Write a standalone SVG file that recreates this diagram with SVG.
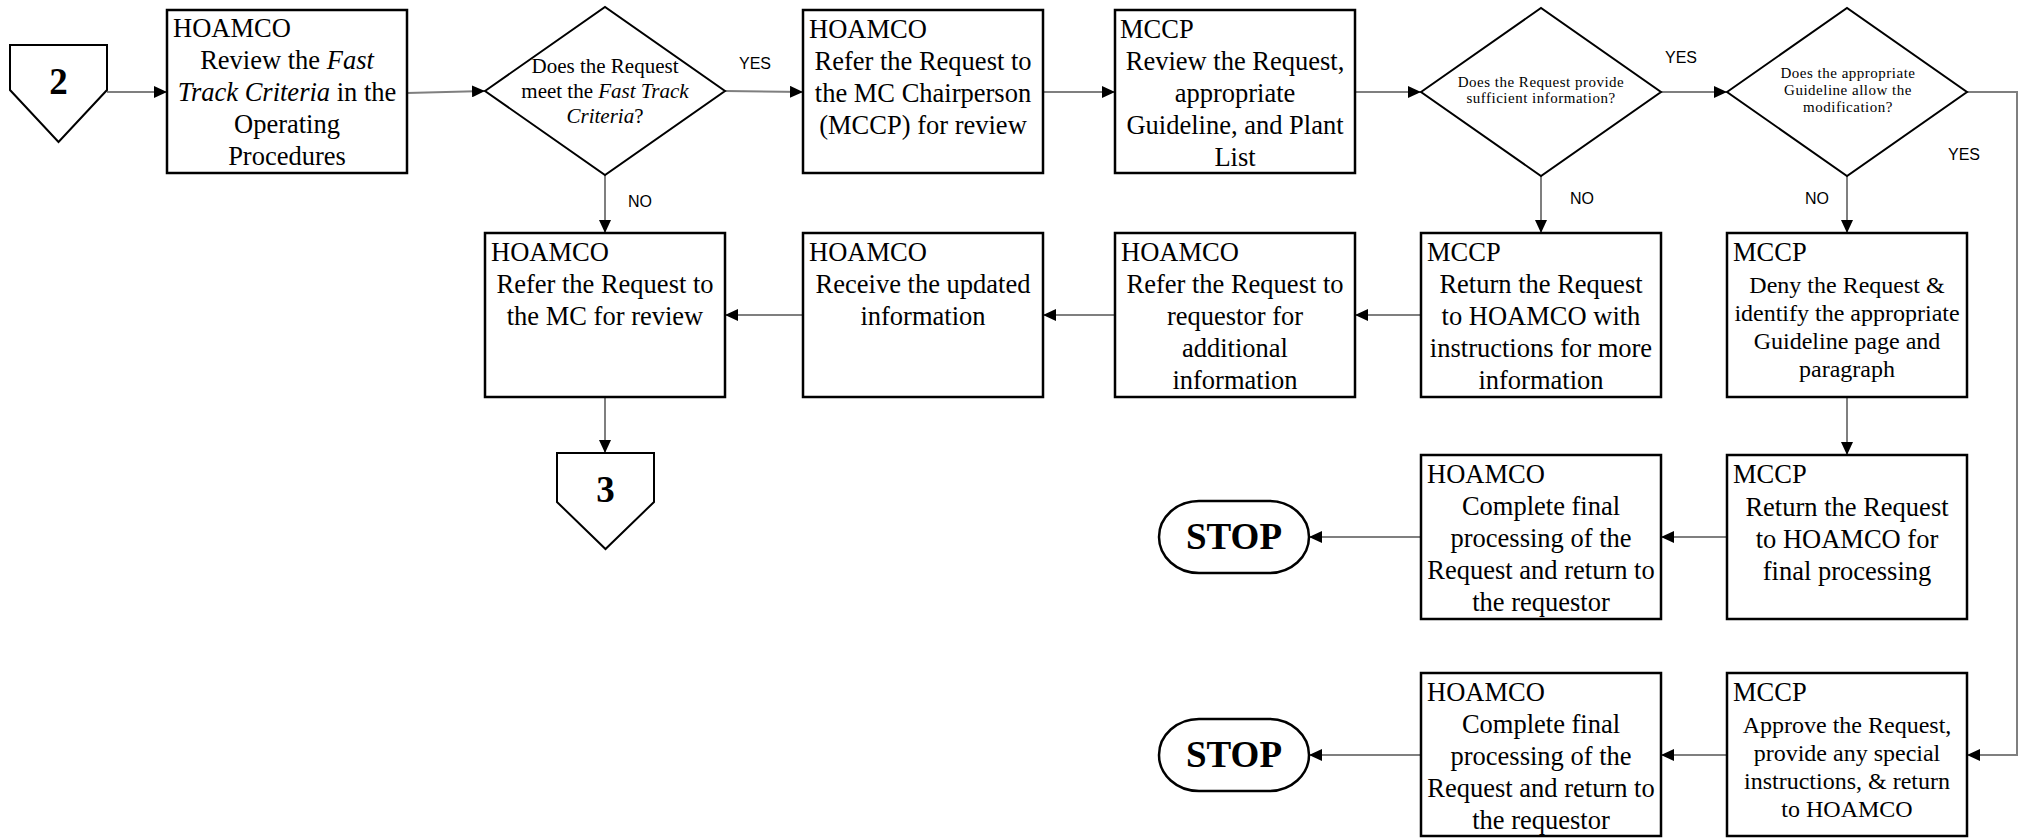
<svg xmlns="http://www.w3.org/2000/svg" width="2028" height="838" viewBox="0 0 2028 838">
<style>
.box{fill:#fff;stroke:#000;stroke-width:2.5}
.dia{fill:#fff;stroke:#000;stroke-width:2}
.con{fill:none;stroke:#7f7f7f;stroke-width:2}
.t{font-family:"Liberation Serif","Times New Roman",serif;font-size:26.5px;fill:#000}
.ts{font-family:"Liberation Serif","Times New Roman",serif;font-size:24px;fill:#000}
.c{text-anchor:middle}
.d1{font-family:"Liberation Serif","Times New Roman",serif;font-size:21px;fill:#000;text-anchor:middle}
.d2{font-family:"Liberation Serif","Times New Roman",serif;font-size:15px;letter-spacing:0.5px;fill:#000;text-anchor:middle}
.lab{font-family:"Liberation Sans",Arial,sans-serif;font-size:16px;fill:#000}
.big{font-family:"Liberation Serif","Times New Roman",serif;font-weight:bold;fill:#000;text-anchor:middle}
.i{font-style:italic}
</style>
<defs>
<marker id="arr" markerUnits="userSpaceOnUse" markerWidth="14" markerHeight="12" refX="13" refY="6" orient="auto">
<path d="M0,0 L13,6 L0,12 Z" fill="#000"/>
</marker>
</defs>

<g id="connectors">
<line class="con" x1="107" y1="92" x2="167" y2="92" marker-end="url(#arr)"/>
<line class="con" x1="407" y1="93" x2="485" y2="91" marker-end="url(#arr)"/>
<line class="con" x1="725" y1="91" x2="803" y2="92" marker-end="url(#arr)"/>
<line class="con" x1="1043" y1="92" x2="1115" y2="92" marker-end="url(#arr)"/>
<line class="con" x1="1355" y1="92" x2="1421" y2="92" marker-end="url(#arr)"/>
<line class="con" x1="1661" y1="92" x2="1727" y2="92" marker-end="url(#arr)"/>
<path class="con" d="M1967,92 H2017 V755 H1967" marker-end="url(#arr)"/>
<line class="con" x1="605" y1="175" x2="605" y2="233" marker-end="url(#arr)"/>
<line class="con" x1="1541" y1="176" x2="1541" y2="233" marker-end="url(#arr)"/>
<line class="con" x1="1847" y1="176" x2="1847" y2="233" marker-end="url(#arr)"/>
<line class="con" x1="1421" y1="315" x2="1355" y2="315" marker-end="url(#arr)"/>
<line class="con" x1="1115" y1="315" x2="1043" y2="315" marker-end="url(#arr)"/>
<line class="con" x1="803" y1="315" x2="725" y2="315" marker-end="url(#arr)"/>
<line class="con" x1="605" y1="397" x2="605" y2="453" marker-end="url(#arr)"/>
<line class="con" x1="1847" y1="397" x2="1847" y2="455" marker-end="url(#arr)"/>
<line class="con" x1="1727" y1="537" x2="1661" y2="537" marker-end="url(#arr)"/>
<line class="con" x1="1421" y1="537" x2="1309" y2="537" marker-end="url(#arr)"/>
<line class="con" x1="1727" y1="755" x2="1661" y2="755" marker-end="url(#arr)"/>
<line class="con" x1="1421" y1="755" x2="1309" y2="755" marker-end="url(#arr)"/>
<text class="lab" x="739" y="69">YES</text>
<text class="lab" x="628" y="207">NO</text>
<text class="lab" x="1665" y="63">YES</text>
<text class="lab" x="1570" y="204">NO</text>
<text class="lab" x="1805" y="204">NO</text>
<text class="lab" x="1948" y="160">YES</text>
</g>

<g id="offpage2">
<polygon class="dia" points="10,45 107,45 107,90 58.5,142 10,90"/>
<text class="big" x="58.5" y="94" font-size="37">2</text>
</g>

<g id="box1">
<rect class="box" x="167" y="10" width="240" height="163"/>
<text class="t" x="173" y="37">HOAMCO</text>
<text class="t c" x="287" y="69">Review the <tspan class="i">Fast</tspan></text>
<text class="t c" x="287" y="101"><tspan class="i">Track Criteria</tspan> in the</text>
<text class="t c" x="287" y="133">Operating</text>
<text class="t c" x="287" y="165">Procedures</text>
</g>

<g id="decision1">
<polygon class="dia" points="485,91 605,7 725,91 605,175"/>
<text class="d1" x="605" y="73">Does the Request</text>
<text class="d1" x="605" y="98">meet the <tspan class="i">Fast Track</tspan></text>
<text class="d1" x="605" y="123"><tspan class="i">Criteria</tspan>?</text>
</g>

<g id="box2">
<rect class="box" x="803" y="10" width="240" height="163"/>
<text class="t" x="809" y="38">HOAMCO</text>
<text class="t c" x="923" y="70">Refer the Request to</text>
<text class="t c" x="923" y="102">the MC Chairperson</text>
<text class="t c" x="923" y="134">(MCCP) for review</text>
</g>

<g id="box3">
<rect class="box" x="1115" y="10" width="240" height="163"/>
<text class="t" x="1120" y="38">MCCP</text>
<text class="t c" x="1235" y="70">Review the Request,</text>
<text class="t c" x="1235" y="102">appropriate</text>
<text class="t c" x="1235" y="134">Guideline, and Plant</text>
<text class="t c" x="1235" y="166">List</text>
</g>

<g id="decision2">
<polygon class="dia" points="1421,92 1541,8 1661,92 1541,176"/>
<text class="d2" x="1541" y="87">Does the Request provide</text>
<text class="d2" x="1541" y="103">sufficient information?</text>
</g>

<g id="decision3">
<polygon class="dia" points="1727,92 1847,8 1967,92 1847,176"/>
<text class="d2" x="1848" y="78">Does the appropriate</text>
<text class="d2" x="1848" y="95">Guideline allow the</text>
<text class="d2" x="1848" y="112">modification?</text>
</g>

<g id="boxA">
<rect class="box" x="485" y="233" width="240" height="164"/>
<text class="t" x="491" y="261">HOAMCO</text>
<text class="t c" x="605" y="293">Refer the Request to</text>
<text class="t c" x="605" y="325">the MC for review</text>
</g>

<g id="boxB">
<rect class="box" x="803" y="233" width="240" height="164"/>
<text class="t" x="809" y="261">HOAMCO</text>
<text class="t c" x="923" y="293">Receive the updated</text>
<text class="t c" x="923" y="325">information</text>
</g>

<g id="boxC">
<rect class="box" x="1115" y="233" width="240" height="164"/>
<text class="t" x="1121" y="261">HOAMCO</text>
<text class="t c" x="1235" y="293">Refer the Request to</text>
<text class="t c" x="1235" y="325">requestor for</text>
<text class="t c" x="1235" y="357">additional</text>
<text class="t c" x="1235" y="389">information</text>
</g>

<g id="boxD">
<rect class="box" x="1421" y="233" width="240" height="164"/>
<text class="t" x="1427" y="261">MCCP</text>
<text class="t c" x="1541" y="293">Return the Request</text>
<text class="t c" x="1541" y="325">to HOAMCO with</text>
<text class="t c" x="1541" y="357">instructions for more</text>
<text class="t c" x="1541" y="389">information</text>
</g>

<g id="boxE">
<rect class="box" x="1727" y="233" width="240" height="164"/>
<text class="t" x="1733" y="261">MCCP</text>
<text class="ts c" x="1847" y="293">Deny the Request &amp;</text>
<text class="ts c" x="1847" y="321">identify the appropriate</text>
<text class="ts c" x="1847" y="349">Guideline page and</text>
<text class="ts c" x="1847" y="377">paragraph</text>
</g>

<g id="offpage3">
<polygon class="dia" points="557,453 654,453 654,502 605.5,549 557,502"/>
<text class="big" x="605.5" y="502" font-size="37">3</text>
</g>

<g id="boxF">
<rect class="box" x="1421" y="455" width="240" height="164"/>
<text class="t" x="1427" y="483">HOAMCO</text>
<text class="t c" x="1541" y="515">Complete final</text>
<text class="t c" x="1541" y="547">processing of the</text>
<text class="t c" x="1541" y="579">Request and return to</text>
<text class="t c" x="1541" y="611">the requestor</text>
</g>

<g id="boxG">
<rect class="box" x="1727" y="455" width="240" height="164"/>
<text class="t" x="1733" y="483">MCCP</text>
<text class="t c" x="1847" y="516">Return the Request</text>
<text class="t c" x="1847" y="548">to HOAMCO for</text>
<text class="t c" x="1847" y="580">final processing</text>
</g>

<g id="stop1">
<rect class="box" x="1159" y="501" width="150" height="72" rx="40" ry="36"/>
<text class="big" x="1234" y="549" font-size="37">STOP</text>
</g>

<g id="boxH">
<rect class="box" x="1421" y="673" width="240" height="163"/>
<text class="t" x="1427" y="701">HOAMCO</text>
<text class="t c" x="1541" y="733">Complete final</text>
<text class="t c" x="1541" y="765">processing of the</text>
<text class="t c" x="1541" y="797">Request and return to</text>
<text class="t c" x="1541" y="829">the requestor</text>
</g>

<g id="boxI">
<rect class="box" x="1727" y="673" width="240" height="163"/>
<text class="t" x="1733" y="701">MCCP</text>
<text class="ts c" x="1847" y="733">Approve the Request,</text>
<text class="ts c" x="1847" y="761">provide any special</text>
<text class="ts c" x="1847" y="789">instructions, &amp; return</text>
<text class="ts c" x="1847" y="817">to HOAMCO</text>
</g>

<g id="stop2">
<rect class="box" x="1159" y="719" width="150" height="72" rx="40" ry="36"/>
<text class="big" x="1234" y="767" font-size="37">STOP</text>
</g>
</svg>
